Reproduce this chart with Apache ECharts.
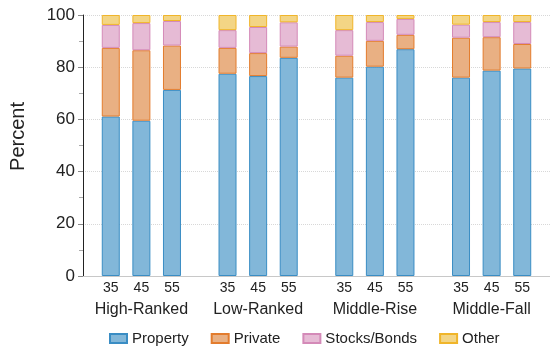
<!DOCTYPE html>
<html>
<head>
<meta charset="utf-8">
<script src="https://cdn.jsdelivr.net/npm/echarts@6/dist/echarts.min.js"></script>
<style>
  html, body { margin: 0; padding: 0; background: #fff; }
  #chart { width: 550px; height: 348px; }
</style>
</head>
<body>
<div id="chart"></div>
<script>
// Portfolio composition (percent) by trajectory group and age.
const groups = ['High-Ranked', 'Low-Ranked', 'Middle-Rise', 'Middle-Fall'];
const ages = ['35', '45', '55'];
const assetTypes = ['Property', 'Private', 'Stocks/Bonds', 'Other'];

// Values listed group by group, ages 35, 45, 55 within each group.
const property = [61.1, 59.5, 71.3, 77.5, 76.6, 83.6, 76.0, 80.2, 86.9, 76.0, 78.7, 79.5];
const privateBiz = [26.3, 27.0, 17.0, 9.9, 8.8, 4.3, 8.4, 9.9, 5.5, 15.3, 12.8, 9.4];
const stocksBonds = [8.8, 10.4, 9.4, 6.8, 10.0, 9.3, 9.8, 7.2, 6.1, 5.0, 5.8, 8.4];
const other = [3.8, 3.1, 2.3, 5.8, 4.6, 2.8, 5.8, 2.7, 1.5, 3.7, 2.7, 2.7];

const yTicks = [0, 20, 40, 60, 80, 100];

const valuesByType = [property, privateBiz, stocksBonds, other];
const fills = ['#82b7d9', '#e9b083', '#e6bbd5', '#f3d585'];
const borders = ['#3a8dc4', '#e37c2d', '#d48ab8', '#f0b52a'];
const font = 'Liberation Sans, Arial, Helvetica, sans-serif';

const series = [];
ages.forEach((age, a) => {
  assetTypes.forEach((t, k) => {
    series.push({
      name: t,
      type: 'bar',
      stack: 'age' + age,
      barWidth: 18,
      barGap: '70%',
      data: groups.map((g, gi) => valuesByType[k][gi * ages.length + a]),
      itemStyle: { color: fills[k], borderColor: borders[k], borderWidth: 1 },
      emphasis: { disabled: true },
      label: k === 0 ? {
        show: true,
        position: 'bottom',
        distance: 5,
        formatter: () => age,
        color: '#222',
        fontSize: 14,
        fontFamily: font
      } : { show: false }
    });
  });
});

const chart = echarts.init(document.getElementById('chart'));
chart.setOption({
  animation: false,
  backgroundColor: '#fff',
  textStyle: { fontFamily: font },
  grid: { left: 81, top: 15, width: 471, bottom: 72, containLabel: false },
  legend: {
    data: assetTypes,
    left: 104,
    top: 326,
    itemWidth: 17,
    itemHeight: 9,
    itemGap: 22,
    icon: 'rect',
    textStyle: { fontSize: 15, color: '#222', fontFamily: font }
  },
  xAxis: {
    type: 'category',
    data: groups,
    axisLine: { show: true, lineStyle: { color: '#c8c8c8', width: 1 } },
    axisTick: { show: false },
    axisLabel: { interval: 0, margin: 26, fontSize: 16, color: '#222', fontFamily: font }
  },
  yAxis: {
    type: 'value',
    min: yTicks[0],
    max: yTicks[yTicks.length - 1],
    interval: 20,
    name: 'Percent',
    nameLocation: 'middle',
    nameRotate: 90,
    nameGap: 55,
    nameTextStyle: { fontSize: 20, color: '#222', fontFamily: font, padding: [0, 0, 0, 18] },
    axisLine: { show: true, lineStyle: { color: '#222', width: 1 } },
    axisTick: { show: true, length: 5, lineStyle: { color: '#888' } },
    minorTick: { show: true, splitNumber: 2, length: 4, lineStyle: { color: '#aaa' } },
    axisLabel: { margin: 8, fontSize: 17, color: '#222', fontFamily: font },
    splitLine: { show: true, lineStyle: { color: '#d8d8d8', type: 'dotted', width: 1 } }
  },
  series: series
});
</script>
</body>
</html>
